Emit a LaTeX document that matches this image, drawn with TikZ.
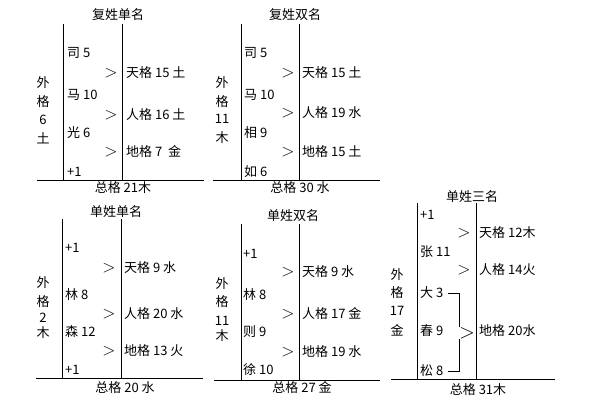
\documentclass[tikz,border=0pt]{standalone}
\usepackage{fontspec}
\newfontfamily\cjk{Noto Sans CJK SC}
\tikzset{
  lbl/.style={anchor=west, inner sep=0pt, font=\cjk\fontsize{13}{15}\selectfont},
  ctr/.style={inner sep=0pt, font=\cjk\fontsize{13}{15}\selectfont},
  gt/.style={inner sep=0pt, font=\fontsize{18}{18}\selectfont},
  bar/.style={line width=0.8pt}
}
\begin{document}
\begin{tikzpicture}[x=1pt, y=-1pt]
\useasboundingbox[fill=white] (0,0) rectangle (609,401);

% 复姓单名
\node[ctr] (t1) at (118,15) {复姓单名};
\draw[bar] (63,24) -- (63,180);
\draw[bar] (122,24) -- (122,180);
\draw[bar] (37,180) -- (204,180);
\node[ctr] (w1a) at (43,83) {外};
\node[ctr] (w1b) at (43,102) {格};
\node[ctr] (w1c) at (43,120) {6};
\node[ctr] (w1d) at (43,138) {土};
\node[lbl] (n1a) at (67,53) {司 5};
\node[lbl] (n1b) at (67,95) {马 10};
\node[lbl] (n1c) at (67,133) {光 6};
\node[lbl] (n1d) at (67,172) {+1};
\node[gt] (a1a) at (111,73) {$>$};
\node[gt] (a1b) at (111,115) {$>$};
\node[gt] (a1c) at (111,152) {$>$};
\node[lbl] (g1a) at (126,73) {天格 15 土};
\node[lbl] (g1b) at (126,115) {人格 16 土};
\node[lbl] (g1c) at (126,152) {地格 7\ \ 金};
\node[ctr] (z1) at (123,188) {总格 21木};

% 复姓双名
\node[ctr] (t2) at (295,15) {复姓双名};
\draw[bar] (241,24) -- (241,180);
\draw[bar] (299,24) -- (299,180);
\draw[bar] (213,180) -- (380,180);
\node[ctr] (w2a) at (222,83) {外};
\node[ctr] (w2b) at (222,102) {格};
\node[ctr] (w2c) at (222,119) {11};
\node[ctr] (w2d) at (222,138) {木};
\node[lbl] (n2a) at (244,53) {司 5};
\node[lbl] (n2b) at (244,95) {马 10};
\node[lbl] (n2c) at (244,133) {相 9};
\node[lbl] (n2d) at (244,172) {如 6};
\node[gt] (a2a) at (288,73) {$>$};
\node[gt] (a2b) at (288,113) {$>$};
\node[gt] (a2c) at (288,152) {$>$};
\node[lbl] (g2a) at (302,73) {天格 15 土};
\node[lbl] (g2b) at (302,113) {人格 19 水};
\node[lbl] (g2c) at (302,152) {地格 15 土};
\node[ctr] (z2) at (300,188) {总格 30 水};

% 单姓单名
\node[ctr] (t3) at (116,212) {单姓单名};
\draw[bar] (62,219) -- (62,378);
\draw[bar] (121,219) -- (121,378);
\draw[bar] (36,378) -- (203,378);
\node[ctr] (w3a) at (43,283) {外};
\node[ctr] (w3b) at (43,302) {格};
\node[ctr] (w3c) at (43,318) {2};
\node[ctr] (w3d) at (43,333) {木};
\node[lbl] (n3a) at (65,248) {+1};
\node[lbl] (n3b) at (65,295) {林 8};
\node[lbl] (n3c) at (65,332) {森 12};
\node[lbl] (n3d) at (65,370) {+1};
\node[gt] (a3a) at (109,268) {$>$};
\node[gt] (a3b) at (109,314) {$>$};
\node[gt] (a3c) at (109,351) {$>$};
\node[lbl] (g3a) at (124,268) {天格 9 水};
\node[lbl] (g3b) at (124,314) {人格 20 水};
\node[lbl] (g3c) at (124,351) {地格 13 火};
\node[ctr] (z3) at (125,388) {总格 20 水};

% 单姓双名
\node[ctr] (t4) at (293,216) {单姓双名};
\draw[bar] (241,224) -- (241,380);
\draw[bar] (299,224) -- (299,380);
\draw[bar] (214,380) -- (380,380);
\node[ctr] (w4a) at (222,284) {外};
\node[ctr] (w4b) at (222,302) {格};
\node[ctr] (w4c) at (222,321) {11};
\node[ctr] (w4d) at (222,336) {木};
\node[lbl] (n4a) at (243,254) {+1};
\node[lbl] (n4b) at (243,295) {林 8};
\node[lbl] (n4c) at (243,332) {则 9};
\node[lbl] (n4d) at (243,370) {徐 10};
\node[gt] (a4a) at (288,272) {$>$};
\node[gt] (a4b) at (288,314) {$>$};
\node[gt] (a4c) at (288,352) {$>$};
\node[lbl] (g4a) at (302,272) {天格 9 水};
\node[lbl] (g4b) at (302,314) {人格 17 金};
\node[lbl] (g4c) at (302,352) {地格 19 水};
\node[ctr] (z4) at (302,388) {总格 27 金};

% 单姓三名
\node[ctr] (t5) at (472,197) {单姓三名};
\draw[bar] (417,203) -- (417,379);
\draw[bar] (476,203) -- (476,379);
\draw[bar] (391,379) -- (555,379);
\node[ctr] (w5a) at (397,275) {外};
\node[ctr] (w5b) at (397,293) {格};
\node[ctr] (w5c) at (397,311) {17};
\node[ctr] (w5d) at (397,330) {金};
\node[lbl] (n5a) at (420,215) {+1};
\node[lbl] (n5b) at (420,252) {张 11};
\node[lbl] (n5c) at (420,293) {大 3};
\node[lbl] (n5d) at (420,331) {春 9};
\node[lbl] (n5e) at (420,371) {松 8};
\node[gt] (a5a) at (464,233) {$>$};
\node[gt] (a5b) at (464,270) {$>$};
\node[gt, font=\fontsize{22}{22}\selectfont] (a5c) at (467,333) {$>$};
\node[lbl] (g5a) at (479,233) {天格 12木};
\node[lbl] (g5b) at (479,270) {人格 14火};
\node[lbl] (g5c) at (479,331) {地格 20水};
\draw[bar] (n5c.east) ++(4,0) -- (459,293) -- (a5c.north -| 459,0);
\draw[bar] (n5e.east) ++(4,0) -- (459,371) -- (a5c.south -| 459,0);
\node[ctr] (z5) at (478,390) {总格 31木};

\end{tikzpicture}
\end{document}
